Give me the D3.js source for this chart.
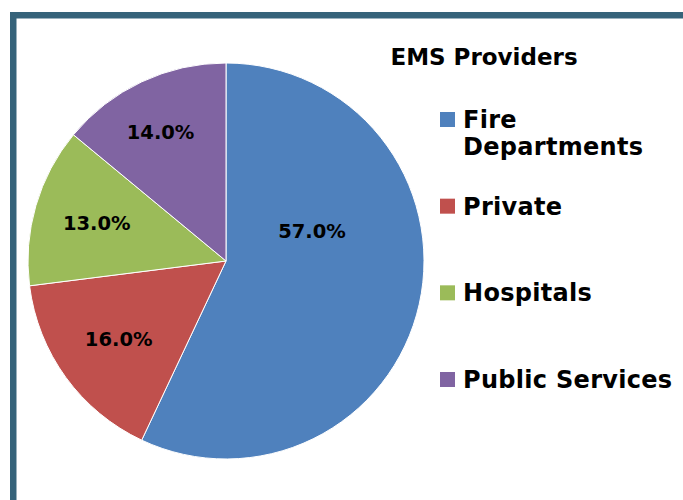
<!DOCTYPE html>
<html>
<head>
<meta charset="utf-8">
<script src="https://cdn.jsdelivr.net/npm/d3@7"></script>
<style>
  html, body { margin: 0; padding: 0; background: #fff; }
  svg { display: block; }
</style>
</head>
<body>
<svg id="chart" width="683" height="500"></svg>
<script>
const categories = ["Fire Departments", "Private", "Hospitals", "Public Services"];
const legendLines = [["Fire", "Departments"], ["Private"], ["Hospitals"], ["Public Services"]];
const values = [57.0, 16.0, 13.0, 14.0];
const colors = ["#4f81bd", "#c0504d", "#9bbb59", "#8064a2"];
const title = "EMS Providers";

const svg = d3.select("#chart");
const W = 683, H = 500;
const FONT = "'DejaVu Sans', Verdana, sans-serif";

// Frame
svg.append("rect").attr("x", 10).attr("y", 12).attr("width", W - 10).attr("height", H - 12)
  .attr("fill", "#36637a");
svg.append("rect").attr("x", 16.5).attr("y", 18.5).attr("width", W - 16.5).attr("height", H - 18.5)
  .attr("fill", "#ffffff");

// Pie
const cx = 226, cy = 261, R = 198;
const pie = d3.pie().sort(null).value(d => d)(values);
const arc = d3.arc().innerRadius(0).outerRadius(R);
const g = svg.append("g").attr("transform", `translate(${cx},${cy})`);
g.selectAll("path.slice").data(pie).enter().append("path")
  .attr("class", "slice")
  .attr("d", arc)
  .attr("fill", (d, i) => colors[i])
  .attr("stroke", "#ffffff")
  .attr("stroke-width", 1);

// Data labels (placement tweaks mimic the original's label positions)
const labelPlace = [
  { angleShift: -0.557, rf: 0.46 },
  { angleShift: 0.0, rf: 0.67 },
  { angleShift: 0.0, rf: 0.68 },
  { angleShift: -0.03, rf: 0.73 }
];
g.selectAll("text.lbl").data(pie).enter().append("text")
  .attr("class", "lbl")
  .each(function (d, i) {
    const a = (d.startAngle + d.endAngle) / 2 + labelPlace[i].angleShift;
    const r = R * labelPlace[i].rf;
    d3.select(this)
      .attr("x", r * Math.sin(a))
      .attr("y", -r * Math.cos(a))
      .attr("dy", "0.36em");
  })
  .attr("text-anchor", "middle")
  .attr("font-family", FONT)
  .attr("font-weight", "bold")
  .attr("font-size", 19.5)
  .attr("fill", "#000")
  .text(d => d3.format(".1f")(d.data) + "%");

// Legend title
svg.append("text")
  .attr("x", 484).attr("y", 65)
  .attr("text-anchor", "middle")
  .attr("font-family", FONT)
  .attr("font-weight", "bold")
  .attr("font-size", 23)
  .attr("fill", "#000")
  .text(title);

// Legend
const legendY = d3.scalePoint().domain(categories).range([128, 388]);
const leg = svg.append("g");
categories.forEach((c, i) => {
  const y = legendY(c);
  leg.append("rect")
    .attr("x", 440).attr("y", y - 16)
    .attr("width", 15).attr("height", 15)
    .attr("fill", colors[i]);
  const t = leg.append("text")
    .attr("x", 463).attr("y", y)
    .attr("font-family", FONT)
    .attr("font-weight", "bold")
    .attr("font-size", 24)
    .attr("letter-spacing", 0.3)
    .attr("fill", "#000");
  legendLines[i].forEach((ln, k) => {
    t.append("tspan").attr("x", 463).attr("dy", k === 0 ? 0 : 27).text(ln);
  });
});
</script>
</body>
</html>
